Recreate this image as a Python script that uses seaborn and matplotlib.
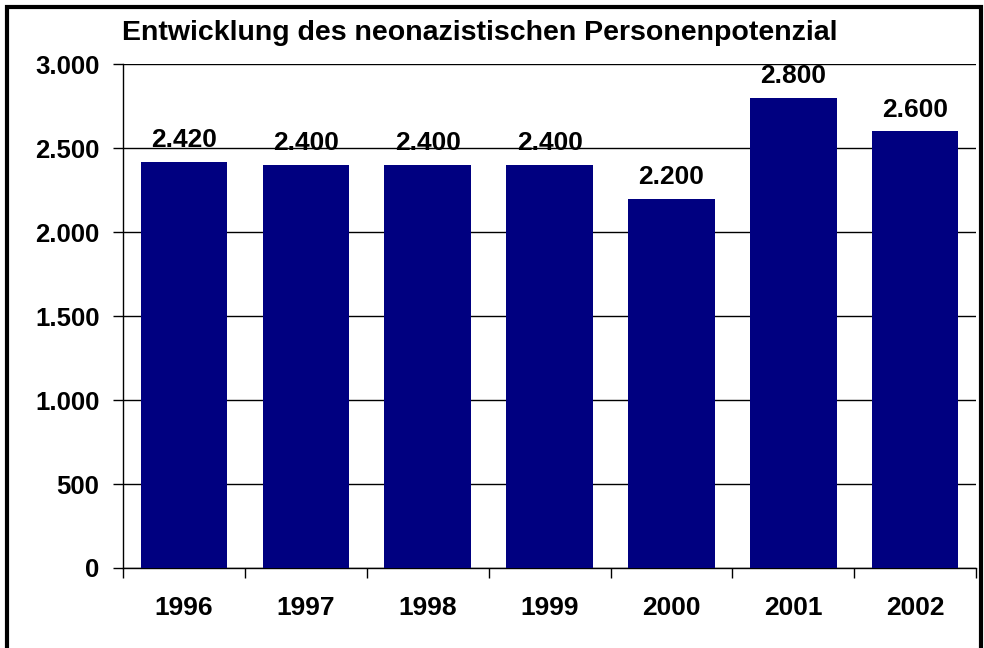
import matplotlib
matplotlib.use("Agg")
import matplotlib.pyplot as plt
import seaborn as sns
import pandas as pd
from matplotlib.patches import Rectangle

# Data
years = ["1996", "1997", "1998", "1999", "2000", "2001", "2002"]
persons = [2420, 2400, 2400, 2400, 2200, 2800, 2600]
y_ticks = [0, 500, 1000, 1500, 2000, 2500, 3000]
title = "Entwicklung des neonazistischen Personenpotenzial"

df = pd.DataFrame({"Jahr": years, "Personen": persons})

sns.set_style("white")
plt.rcParams["font.family"] = ["Liberation Sans", "DejaVu Sans"]
plt.rcParams["font.weight"] = "bold"
plt.rcParams["text.color"] = "black"
plt.rcParams["xtick.color"] = "black"
plt.rcParams["ytick.color"] = "black"


def de_fmt(v):
    return f"{v:,.0f}".replace(",", ".")


fig = plt.figure(figsize=(9.84, 6.48), dpi=100)
ax = fig.add_axes([0.125, 0.1235, 0.867, 0.7775])

sns.barplot(data=df, x="Jahr", y="Personen", color="#000080", saturation=1,
            width=0.71, linewidth=0, ax=ax, zorder=3)

ax.set_ylim(0, 3000)
ax.set_xlim(-0.5, len(years) - 0.5)
ax.set_yticks(y_ticks)
ax.set_yticklabels([de_fmt(v) for v in y_ticks], fontsize=18.5, fontweight="bold")
ax.set_xticks(range(len(years)))
ax.set_xticklabels(years, fontsize=19, fontweight="bold")
ax.set_xticks([i - 0.5 for i in range(len(years) + 1)], minor=True)
ax.tick_params(axis="x", which="major", length=0, pad=20, bottom=True)
ax.tick_params(axis="x", which="minor", length=7, width=1, color="black",
               direction="out", bottom=True)
ax.tick_params(axis="y", length=7, width=1, color="black", direction="out",
               pad=10, left=True)
ax.set_xlabel("")
ax.set_ylabel("")

ax.grid(axis="y", color="black", linewidth=1, zorder=0)
ax.set_axisbelow(True)
for s in ["top", "right"]:
    ax.spines[s].set_visible(False)
for s in ["left", "bottom"]:
    ax.spines[s].set_color("black")
    ax.spines[s].set_linewidth(1)

for i, v in enumerate(persons):
    ax.annotate(de_fmt(v), (i, v), xytext=(0, 7), textcoords="offset points",
                ha="center", va="bottom", fontsize=19, fontweight="bold",
                color="black", zorder=4)

fig.text(122 / 984, 1 - 33 / 648, title, ha="left", va="center",
         fontsize=20.5, fontweight="bold", color="black")

fig.patches.append(Rectangle((7 / 984, -0.05), 974 / 984, 1.05 - 7 / 648,
                             transform=fig.transFigure, fill=False,
                             edgecolor="black", linewidth=3))

fig.savefig("out.png", dpi=100)
